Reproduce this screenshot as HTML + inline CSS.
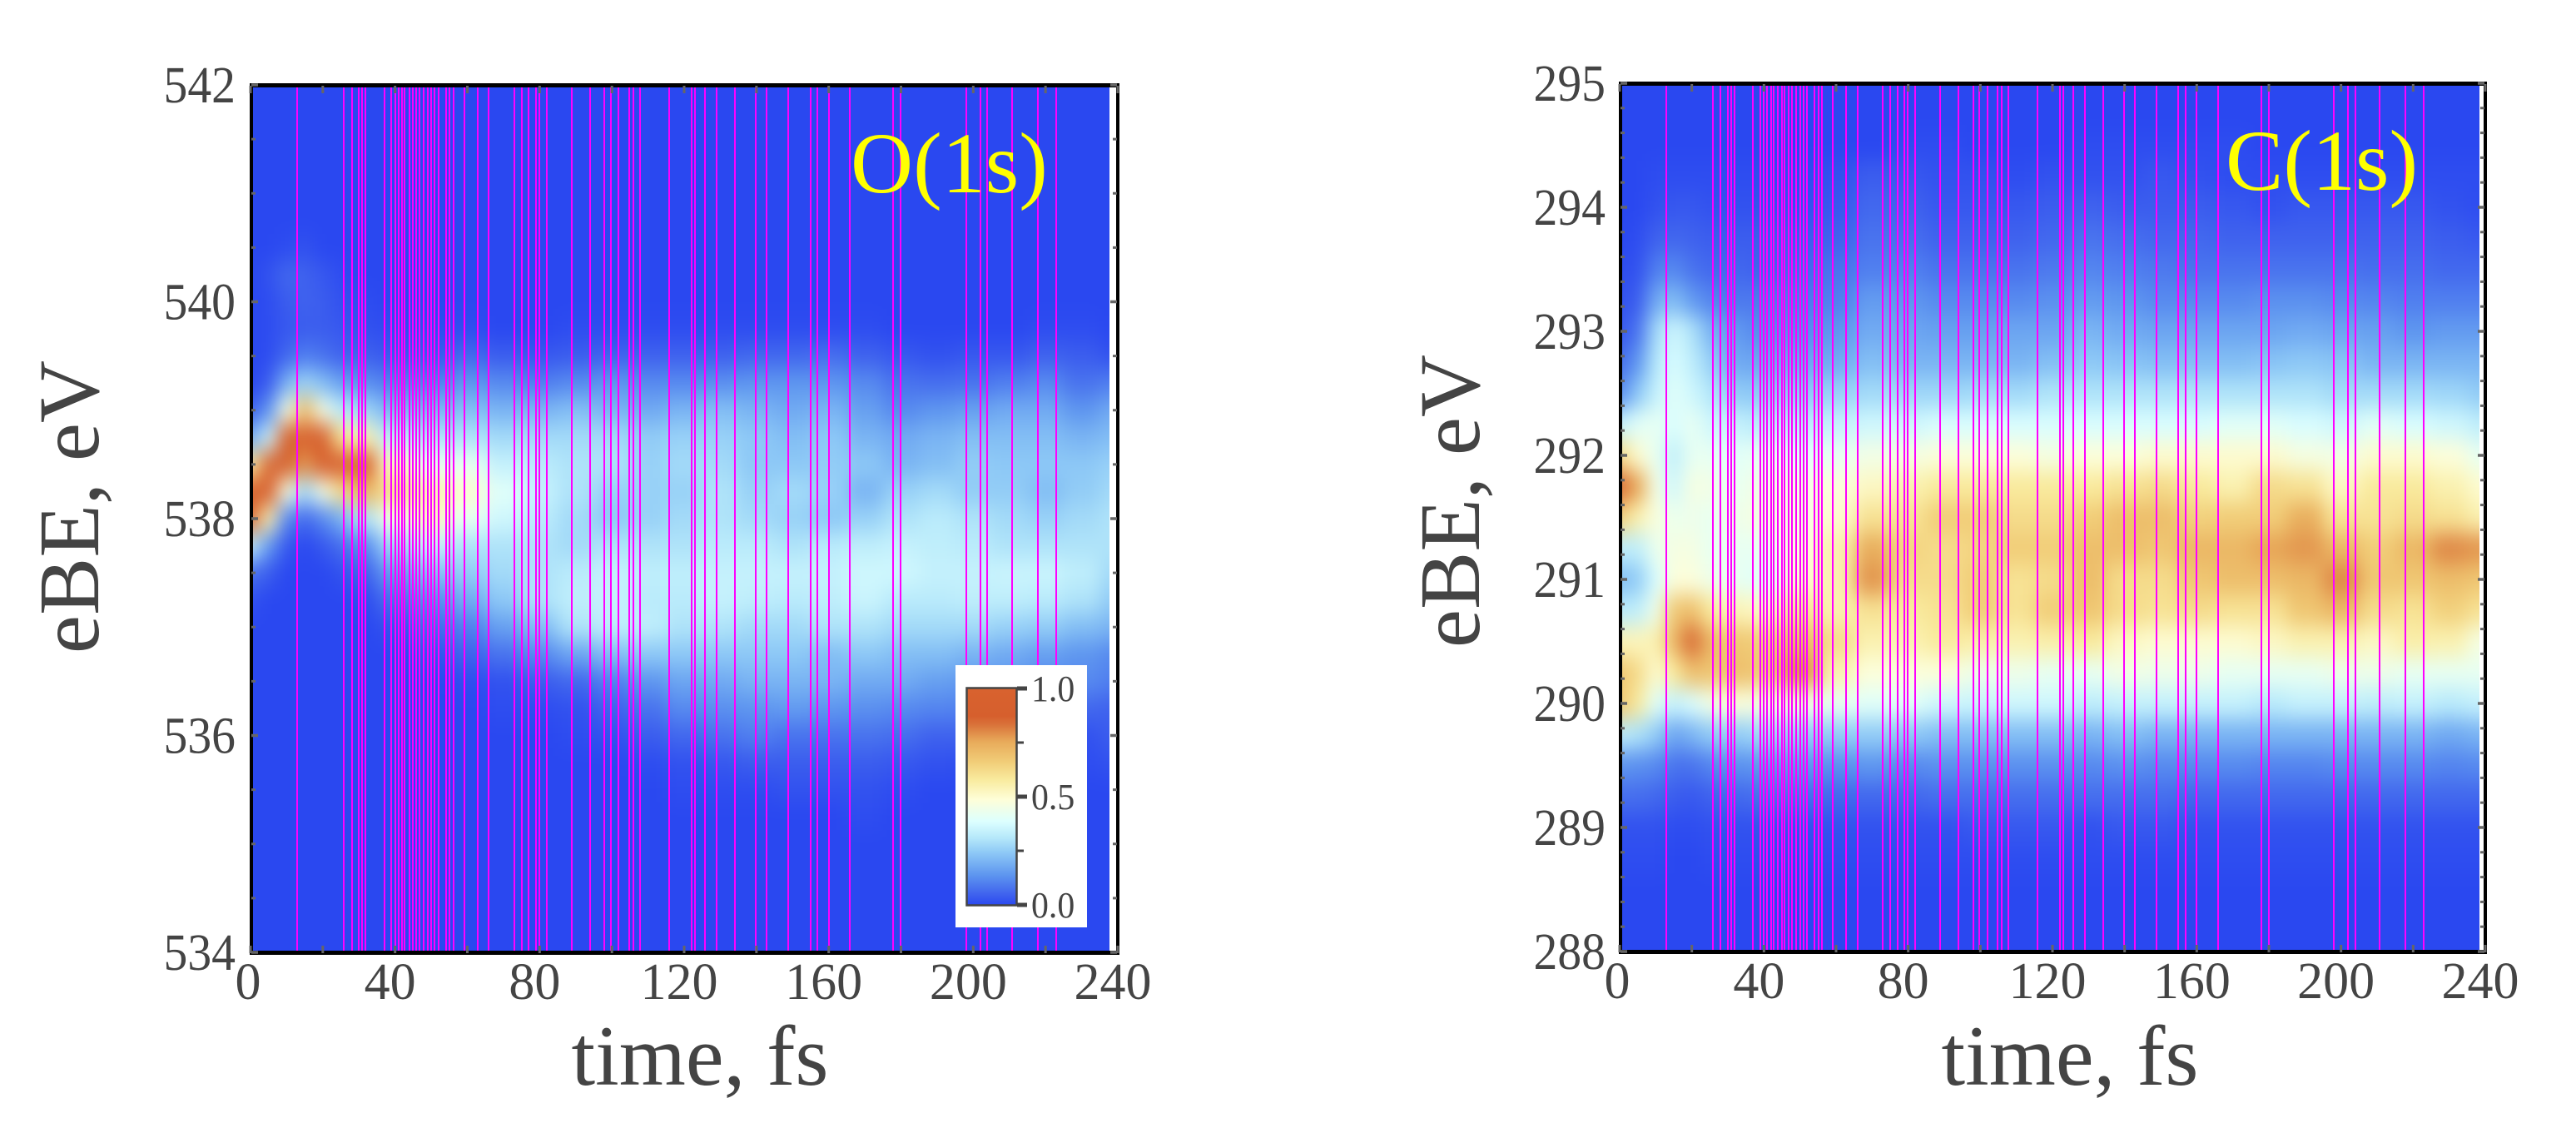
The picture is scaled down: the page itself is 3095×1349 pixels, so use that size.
<!DOCTYPE html>
<html lang="en">
<head>
<meta charset="utf-8">
<title>O(1s) and C(1s) time-resolved electron binding energy maps</title>
<style>
html,body{margin:0;padding:0;background:#fff;}
body{width:3095px;height:1349px;overflow:hidden;}
svg{display:block;font-family:"Liberation Serif",serif;}
text{fill:#444;}
</style>
</head>
<body>
<svg id="figure" width="3095" height="1349" viewBox="0 0 3095 1349" xmlns="http://www.w3.org/2000/svg">
  <defs>
    <filter id="soften" filterUnits="userSpaceOnUse" x="0" y="0" width="3095" height="1349" color-interpolation-filters="sRGB">
      <feGaussianBlur stdDeviation="10 13"/>
    </filter>
    <clipPath id="clip-o"><rect x="301" y="102" width="1032" height="1042"/></clipPath>
    <clipPath id="clip-c"><rect x="1946" y="100" width="1033" height="1043"/></clipPath>
    <linearGradient id="cbar-gradient" x1="0" y1="1" x2="0" y2="0"></linearGradient>
  </defs>
  <g id="panel-o"></g>
  <g id="panel-c"></g>
  <text x="841" y="1303" font-size="103" text-anchor="middle">time, fs</text>
  <text x="2487" y="1303" font-size="103" text-anchor="middle">time, fs</text>
  <text transform="translate(118 609) rotate(-90)" font-size="104" text-anchor="middle">eBE, eV</text>
  <text transform="translate(1777 602) rotate(-90)" font-size="104" text-anchor="middle">eBE, eV</text>
  <text x="1022" y="231" font-size="104" style="fill:#ffff00">O(1s)</text>
  <text x="2674" y="228" font-size="104" style="fill:#ffff00">C(1s)</text>
</svg>
<script>
// ---- shared data ----
const timeColumns = [0,5,10,15,20,25,30,40,50,60,70,80,90,100,110,120,130,140,150,160,170,180,190,200,210,220,230,240];
const pulseTimes = [13,25.8,28,29.9,30.9,31.8,37,39,40,40.9,41.9,42.7,43.9,44.9,45.8,46.8,47.8,49,50,51,52,54.1,55.1,56.1,59.1,62.8,65.9,73,75,77,78.9,79.9,81.9,88.9,93.9,98,99.8,101.9,104.7,105.9,107.8,115.9,122,123,125.8,128.9,134,139.9,142.9,148.8,154.9,156.9,160,165.9,177.9,179.9,198,201.9,203.9,210.8,217.9,223];
const xTickValues = [0,20,40,60,80,100,120,140,160,180,200,220,240];
const xTickLabels = ["0","40","80","120","160","200","240"];

// ---- O(1s) data ----
const oEnergies = [541,540.75,540.5,540.25,540,539.75,539.5,539.25,539,538.75,538.5,538.25,538,537.75,537.5,537.25,537,536.75,536.5,536.25,536,535.75,535.5,535.25,535];
const oIntensity = [
[0,0,0,0,0,0,0,0,0,0,0,0,0,0,0,0,0,0,0,0,0,0,0,0,0,0,0,0],
[0,0,0,0,0,0,0,0,0,0,0,0,0,0,0,0,0,0,0,0,0,0,0,0,0,0,0,0],
[0,0,.01,.02,0,0,0,0,0,0,0,0,0,0,0,0,0,0,0,0,0,0,0,0,0,0,0,0],
[0,.02,.06,.05,.03,.01,0,0,0,0,0,0,0,0,0,0,0,0,0,0,0,0,0,0,0,0,0,0],
[0,.01,.04,.05,.04,.02,.01,0,0,0,0,0,0,0,0,0,0,0,0,0,0,0,0,0,0,0,0,0],
[0,.01,.03,.04,.04,.03,.02,.01,.01,.01,0,0,.01,.01,.01,.01,.01,.01,.01,.01,.01,0,0,0,0,.01,.01,0],
[0,.01,.06,.1,.08,.05,.05,.03,.03,.06,.04,.03,.04,.05,.05,.05,.05,.06,.06,.07,.05,.03,.02,.03,.03,.05,.04,.02],
[0,.04,.2,.27,.22,.16,.13,.1,.1,.14,.12,.1,.12,.14,.12,.12,.13,.14,.14,.14,.12,.08,.07,.08,.1,.12,.08,.1],
[.05,.14,.45,.7,.45,.32,.27,.2,.2,.22,.2,.2,.22,.2,.18,.2,.22,.2,.18,.2,.16,.12,.14,.16,.18,.18,.14,.18],
[.18,.35,.9,.95,.88,.6,.55,.32,.3,.3,.28,.28,.28,.28,.25,.26,.26,.24,.22,.24,.2,.18,.2,.22,.22,.22,.2,.22],
[.58,.85,.9,.78,.92,.93,.9,.52,.42,.42,.34,.32,.3,.3,.26,.28,.28,.24,.24,.25,.24,.2,.22,.25,.24,.24,.24,.26],
[.92,.92,.47,.28,.45,.62,.72,.62,.55,.5,.4,.34,.3,.26,.26,.26,.3,.26,.28,.26,.2,.26,.28,.25,.25,.22,.25,.28],
[.85,.55,.12,.06,.12,.2,.3,.45,.52,.42,.36,.32,.28,.24,.26,.28,.3,.28,.26,.24,.26,.3,.32,.3,.28,.26,.28,.3],
[.33,.15,.03,0,.03,.07,.12,.27,.34,.3,.3,.3,.28,.3,.3,.3,.32,.32,.3,.32,.33,.34,.33,.32,.3,.3,.3,.3],
[.08,.04,0,0,0,.02,.05,.15,.22,.25,.28,.3,.32,.34,.33,.33,.34,.34,.34,.34,.36,.36,.34,.34,.35,.35,.33,.28],
[.02,0,0,0,0,0,.01,.07,.12,.18,.24,.3,.33,.34,.32,.32,.34,.33,.32,.33,.35,.32,.32,.33,.33,.32,.3,.25],
[0,0,0,0,0,0,0,.02,.06,.1,.16,.22,.3,.33,.33,.3,.3,.28,.28,.3,.3,.28,.28,.28,.26,.25,.22,.2],
[0,0,0,0,0,0,0,0,.02,.05,.08,.12,.17,.22,.24,.24,.24,.24,.24,.22,.24,.22,.22,.2,.18,.16,.14,.12],
[0,0,0,0,0,0,0,0,0,.01,.02,.04,.06,.1,.14,.17,.18,.2,.2,.2,.18,.18,.16,.14,.14,.12,.12,.1],
[0,0,0,0,0,0,0,0,0,0,.01,.01,.02,.05,.08,.12,.13,.14,.15,.14,.13,.12,.11,.1,.08,.1,.06,.05],
[0,0,0,0,0,0,0,0,0,0,0,0,.01,.02,.04,.06,.08,.1,.08,.08,.08,.07,.05,.05,.05,.03,.02,.04],
[0,0,0,0,0,0,0,0,0,0,0,0,0,0,.01,.02,.03,.04,.04,.04,.04,.03,.02,.01,.01,.01,.01,.02],
[0,0,0,0,0,0,0,0,0,0,0,0,0,0,0,.01,.01,.01,.02,.02,.02,.01,0,0,0,0,0,0],
[0,0,0,0,0,0,0,0,0,0,0,0,0,0,0,0,0,0,0,0,.01,0,0,0,0,0,0,0],
[0,0,0,0,0,0,0,0,0,0,0,0,0,0,0,0,0,0,0,0,0,0,0,0,0,0,0,0]
];
const oTickValues = [534,534.5,535,535.5,536,536.5,537,537.5,538,538.5,539,539.5,540,540.5,541,541.5,542];
const oTickLabels = ["534","536","538","540","542"];

// ---- C(1s) data ----
const cEnergies = [294.5,294.25,294,293.75,293.5,293.25,293,292.75,292.5,292.25,292,291.75,291.5,291.25,291,290.75,290.5,290.25,290,289.75,289.5,289.25,289,288.75,288.5];
const cIntensity = [
[0,0,0,0,0,0,0,0,0,0,0,.01,.01,0,0,0,.01,.01,.01,.01,.01,0,0,0,0,0,0,0],
[0,0,.01,.01,.01,.01,.01,.01,.01,.02,.04,.03,.02,.02,.01,.02,.02,.02,.03,.02,.01,.01,.01,.01,.01,.01,.01,.01],
[0,0,.02,.03,.03,.02,.02,.02,.02,.03,.06,.05,.03,.03,.03,.04,.05,.04,.04,.04,.03,.02,.03,.03,.03,.03,.02,.01],
[0,.01,.05,.06,.05,.04,.04,.04,.04,.05,.08,.07,.05,.05,.05,.06,.08,.07,.06,.06,.05,.05,.05,.05,.05,.05,.04,.03],
[.01,.02,.1,.12,.08,.06,.06,.05,.06,.08,.1,.1,.08,.08,.08,.09,.11,.1,.09,.08,.08,.08,.08,.08,.07,.07,.06,.06],
[.02,.04,.18,.22,.15,.11,.09,.09,.09,.1,.15,.14,.12,.12,.12,.13,.15,.14,.12,.12,.12,.13,.13,.12,.11,.1,.1,.1],
[.03,.08,.28,.36,.3,.2,.15,.12,.12,.14,.18,.17,.16,.16,.17,.17,.2,.18,.17,.17,.17,.17,.18,.17,.16,.14,.15,.15],
[.07,.14,.31,.38,.33,.26,.18,.17,.17,.18,.22,.2,.2,.2,.2,.22,.24,.23,.22,.22,.22,.23,.24,.23,.2,.2,.2,.2],
[.12,.24,.34,.4,.36,.31,.25,.24,.24,.26,.28,.27,.27,.28,.28,.3,.3,.3,.3,.3,.3,.3,.3,.28,.28,.28,.27,.25],
[.34,.4,.42,.38,.42,.36,.34,.32,.32,.34,.36,.36,.38,.38,.38,.38,.38,.38,.38,.38,.4,.4,.38,.36,.4,.38,.36,.33],
[.62,.5,.42,.33,.42,.42,.4,.42,.4,.42,.45,.46,.48,.48,.48,.46,.48,.48,.5,.5,.5,.5,.46,.45,.5,.5,.48,.42],
[.85,.75,.45,.36,.46,.45,.42,.45,.46,.48,.52,.55,.58,.58,.58,.58,.58,.6,.62,.58,.55,.62,.6,.52,.58,.58,.55,.5],
[.65,.55,.47,.43,.44,.42,.44,.46,.46,.5,.6,.6,.66,.66,.62,.62,.66,.7,.7,.65,.66,.66,.74,.6,.6,.62,.6,.55],
[.33,.33,.43,.46,.46,.42,.42,.42,.48,.55,.74,.64,.62,.64,.66,.66,.7,.7,.68,.72,.72,.76,.78,.72,.66,.72,.8,.78],
[.22,.25,.38,.48,.48,.44,.42,.4,.5,.55,.78,.62,.62,.66,.6,.62,.7,.62,.62,.68,.7,.7,.72,.8,.68,.68,.7,.68],
[.32,.33,.44,.67,.7,.58,.54,.52,.6,.55,.6,.58,.6,.66,.6,.66,.68,.62,.6,.62,.6,.6,.68,.72,.62,.6,.65,.6],
[.54,.53,.55,.72,.85,.72,.68,.66,.72,.62,.55,.55,.58,.56,.55,.56,.58,.52,.5,.5,.5,.52,.55,.55,.52,.56,.55,.46],
[.68,.62,.5,.58,.7,.68,.7,.68,.8,.55,.48,.48,.48,.44,.44,.42,.42,.45,.44,.44,.42,.42,.42,.44,.44,.42,.42,.42],
[.68,.58,.4,.34,.38,.45,.48,.46,.46,.42,.4,.4,.36,.35,.36,.36,.33,.34,.34,.34,.34,.32,.34,.34,.33,.34,.32,.34],
[.32,.3,.25,.17,.2,.25,.25,.27,.25,.25,.25,.24,.22,.22,.22,.22,.2,.22,.2,.2,.2,.2,.2,.2,.2,.2,.18,.2],
[.14,.13,.12,.08,.08,.11,.13,.14,.14,.13,.14,.12,.13,.13,.13,.13,.12,.13,.12,.12,.12,.11,.11,.12,.12,.12,.11,.12],
[.07,.07,.06,.04,.03,.05,.06,.07,.07,.06,.06,.06,.07,.07,.07,.07,.07,.07,.07,.06,.06,.06,.06,.06,.06,.06,.06,.06],
[.02,.02,.02,.01,.01,.02,.02,.02,.02,.02,.02,.02,.02,.03,.03,.03,.02,.03,.03,.02,.02,.02,.02,.02,.02,.02,.02,.02],
[.01,.01,.01,0,0,.01,.01,.01,.01,.01,.01,.01,.01,.01,.01,.01,.01,.01,.01,.01,.01,.01,.01,.01,.01,.01,.01,.01],
[0,0,0,0,0,0,0,0,0,0,0,0,0,0,0,0,0,0,0,0,0,0,0,0,0,0,0,0]
];
const cTickValues = [288,288.2,288.4,288.6,288.8,289,289.2,289.4,289.6,289.8,290,290.2,290.4,290.6,290.8,291,291.2,291.4,291.6,291.8,292,292.2,292.4,292.6,292.8,293,293.2,293.4,293.6,293.8,294,294.2,294.4,294.6,294.8,295];
const cTickLabels = ["288","289","290","291","292","293","294","295"];

// ---- colour scale ----
const colorStopValues = [0,.05,.14,.245,.31,.385,.487,.576,.66,.754,.83,.87,1];
const colorStopHex = ["#2a48f0","#3f62ee","#5e96ef","#8fcaf6","#b5e8fa","#dcffff","#fefed8","#f9eb9f","#f1cd78","#e8aa5a","#d9733a","#d65f2d","#d8622f"];
const colorbarTickValues = [0,.25,.5,.75,1];
const colorbarTickLabels = ["0.0","0.5","1.0"];

const NS = "http://www.w3.org/2000/svg";
function make(tag, attrs, parent){
  const el = document.createElementNS(NS, tag);
  for (const k in attrs) el.setAttribute(k, attrs[k]);
  parent.appendChild(el);
  return el;
}
function hexToRgb(h){ return [1,3,5].map(i => parseInt(h.substr(i,2),16)); }
function colorOf(v){
  const t = Math.max(0, Math.min(1, v));
  let i = 0;
  while (i < colorStopValues.length - 2 && t > colorStopValues[i+1]) i++;
  const f = (t - colorStopValues[i]) / (colorStopValues[i+1] - colorStopValues[i]);
  const a = hexToRgb(colorStopHex[i]), b = hexToRgb(colorStopHex[i+1]);
  const c = a.map((x,k) => Math.round(x + (b[k]-x)*f));
  return "rgb(" + c.join(",") + ")";
}

function drawPanel(cfg){
  const root = document.getElementById(cfg.id);
  const x = t => cfg.x0 + t * (cfg.x240 - cfg.x0) / 240;
  const y = e => cfg.yTop + (cfg.eMax - e) * (cfg.yBot - cfg.yTop) / (cfg.eMax - cfg.eMin);

  // heatmap
  const clip = make("g", {"clip-path":"url(#" + cfg.clip + ")"}, root);
  
  
  const blurred = make("g", {filter:"url(#soften)"}, clip);
  const base = make("rect", {x:cfg.x0-80, y:cfg.yTop-80, width:cfg.x240-cfg.x0+160, height:cfg.yBot-cfg.yTop+160, fill:colorOf(0)}, blurred);
  
  
  const nT = timeColumns.length, nE = cfg.energies.length;
  cfg.grid.forEach((row, r) => {
    const yA = r === 0 ? y(cfg.energies[0]) - 16 : (y(cfg.energies[r-1]) + y(cfg.energies[r])) / 2;
    const yB = r === nE-1 ? y(cfg.energies[r]) + 16 : (y(cfg.energies[r]) + y(cfg.energies[r+1])) / 2;
    row.forEach((v, c) => {
      const xA = c === 0 ? x(timeColumns[0]) - 60 : (x(timeColumns[c-1]) + x(timeColumns[c])) / 2;
      const xB = c === nT-1 ? x(timeColumns[c]) + 60 : (x(timeColumns[c]) + x(timeColumns[c+1])) / 2;
      const cell = make("rect", {x:xA, y:yA, width:xB-xA+0.5, height:yB-yA+0.5, fill:colorOf(v)}, blurred);
      
      
    });
  });

  // white strip right of heatmap
  const strip = make("rect", {x:cfg.heatRight, y:cfg.yTop, width:cfg.x240-cfg.heatRight, height:cfg.yBot-cfg.yTop, fill:"#fff"}, root);
  
  

  // magenta pulse lines
  pulseTimes.forEach(t => {
    const px = Math.round(x(t));
    const line = make("line", {x1:px, x2:px, y1:cfg.yTop, y2:cfg.yBot, stroke:"#ff00ff", "stroke-width":2}, root);
    
    
  });

  // frame
  const frame = [
    [cfg.x0-1, cfg.yTop-2, cfg.x240-cfg.x0+3, 5],
    [cfg.x0-1, cfg.yBot-2, cfg.x240-cfg.x0+3, 5],
    [cfg.x0-1, cfg.yTop-2, 4, cfg.yBot-cfg.yTop+5],
    [cfg.x240-2, cfg.yTop-2, 4, cfg.yBot-cfg.yTop+5]
  ];
  frame.forEach(f => {
    const side = make("rect", {x:f[0], y:f[1], width:f[2], height:f[3], fill:"#000"}, root);
    
    
  });

  // x ticks
  xTickValues.forEach(t => {
    [[cfg.yTop+1, 9],[cfg.yBot-8, 9]].forEach(p => {
      const tk = make("rect", {x:x(t)-1.5, y:p[0], width:3, height:p[1], fill:"#666"}, root);
      
      
    });
  });
  xTickLabels.forEach(s => {
    const lbl = make("text", {x:x(+s)+cfg.xLabelShift(+s), y:cfg.yBot+56, "font-size":62, "text-anchor":"middle"}, root);
    lbl.textContent = s;
    
    
  });

  // y ticks
  cfg.yTicks.forEach(e => {
    const major = cfg.yLabels.indexOf(String(e)) >= 0;
    const len = major ? 8 : 5, h = major ? 3.5 : 3;
    [cfg.x0+1, cfg.x240-len-1].forEach(px => {
      const tk = make("rect", {x:px, y:y(e)-h/2, width:len, height:h, fill:"#666"}, root);
      
      
    });
  });
  cfg.yLabels.forEach(s => {
    const lbl = make("text", {transform:"translate(" + cfg.yLabelRight + " " + (y(+s)+21) + ") scale(.93 1)", "font-size":62, "text-anchor":"end"}, root);
    lbl.textContent = s;
    
    
  });
}

drawPanel({id:"panel-o", clip:"clip-o", x0:301, x240:1343, heatRight:1333, yTop:102, yBot:1144, eMax:542, eMin:534,
  energies:oEnergies, grid:oIntensity, yTicks:oTickValues, yLabels:oTickLabels, yLabelRight:283,
  xLabelShift:t => t === 0 ? -3 : -6});
drawPanel({id:"panel-c", clip:"clip-c", x0:1946, x240:2986, heatRight:2979, yTop:100, yBot:1143, eMax:295, eMin:288,
  energies:cEnergies, grid:cIntensity, yTicks:cTickValues, yLabels:cTickLabels, yLabelRight:1929,
  xLabelShift:t => t === 0 ? -3 : -6});

// ---- colorbar ----
(function(){
  const svg = document.getElementById("figure");
  const grad = document.getElementById("cbar-gradient");
  colorStopValues.forEach((v,i) => {
    make("stop", {offset:v, "stop-color":colorStopHex[i]}, grad);
  });
  const g = make("g", {}, svg);
  
  
  const cy = v => 1087 - v * 260;
  const box = make("rect", {x:1148, y:799, width:158, height:315, fill:"#fff"}, g);
  
  
  const bar = make("rect", {x:1161.5, y:826.5, width:60, height:261, fill:"url(#cbar-gradient)", stroke:"#444", "stroke-width":2.5}, g);
  
  
  colorbarTickValues.forEach(v => {
    const major = v === 0 || v === .5 || v === 1;
    const tk = make("rect", {x:1222, y:cy(v)-(major?2.5:1.5), width:major?12:8, height:major?5:3, fill:"#444"}, g);
    
    
  });
  colorbarTickLabels.forEach(s => {
    const lbl = make("text", {transform:"translate(1239 " + (cy(+s)+15) + ") scale(.95 1)", "font-size":44}, g);
    lbl.textContent = s;
    
    
  });
})();
</script>
</body>
</html>
